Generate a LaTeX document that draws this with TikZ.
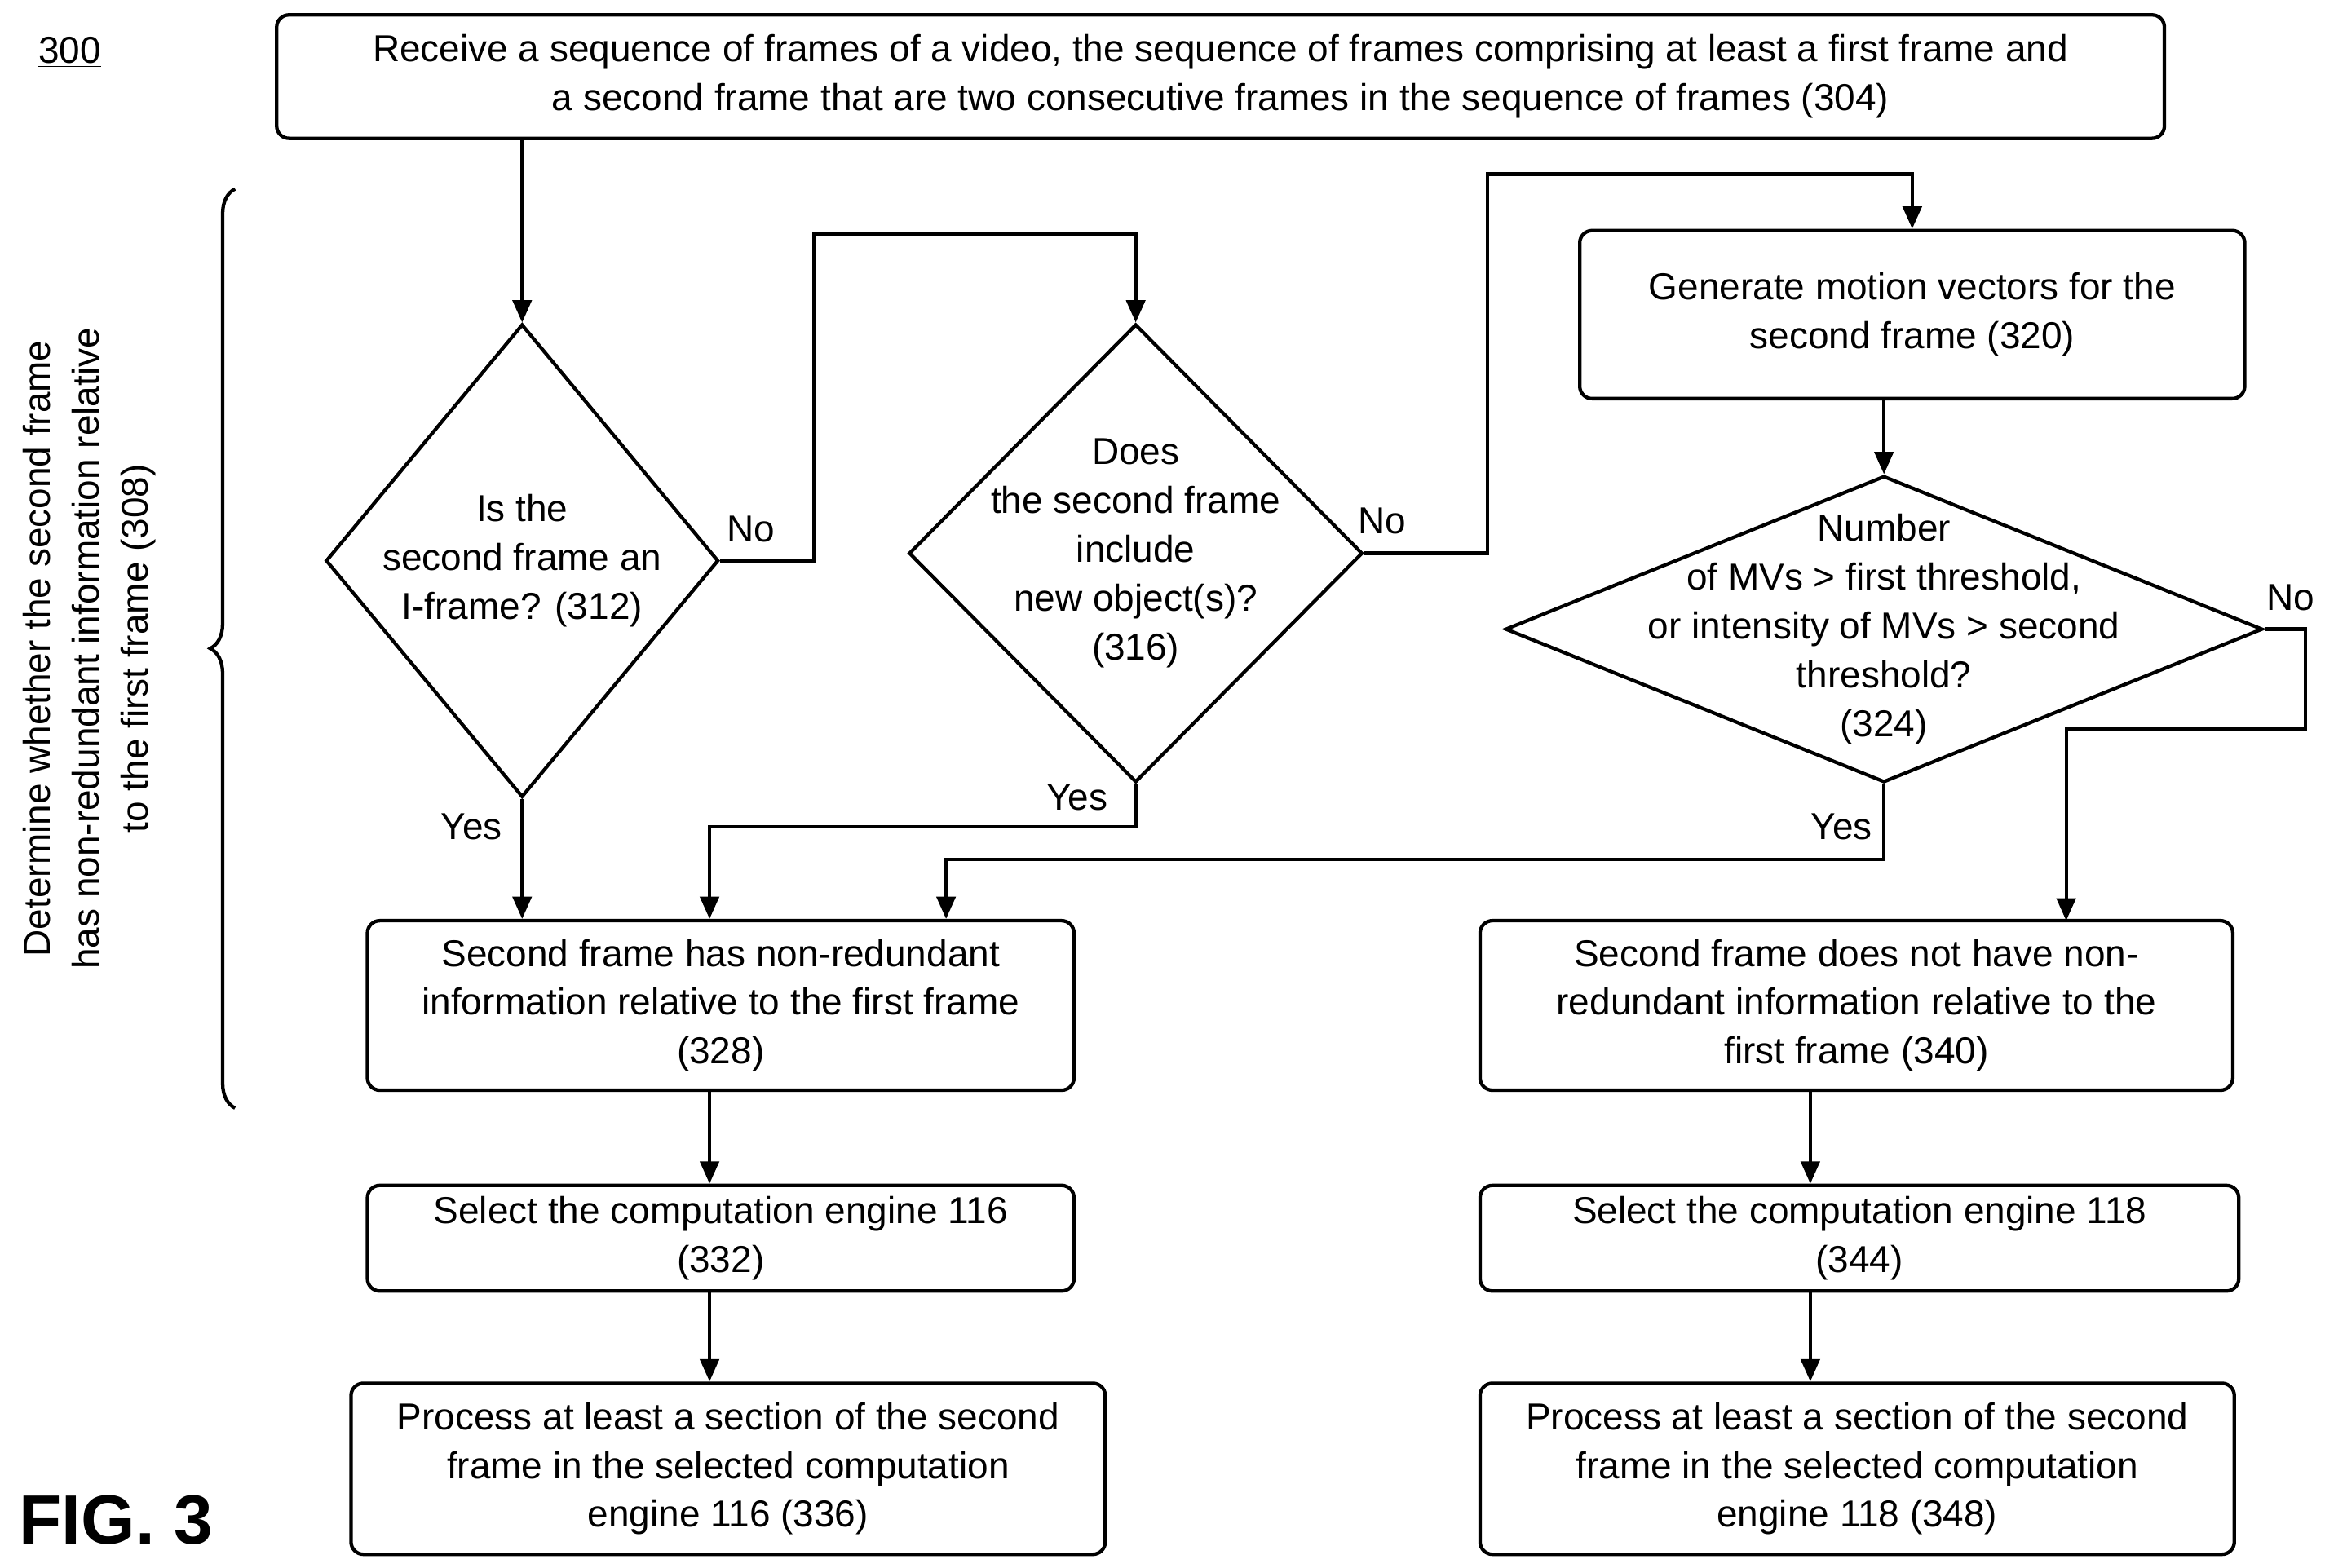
\documentclass[tikz,border=0pt]{standalone}
\usepackage{fontspec}
\setmainfont{Liberation Sans}
\usetikzlibrary{shapes.geometric,arrows.meta,decorations.pathreplacing}
\begin{document}
\begin{tikzpicture}[x=0.03cm,y=-0.03cm,
  every node/.style={font=\fontsize{21.5}{28}\selectfont},
  box/.style={draw,line width=2pt,rounded corners=0.25cm,inner sep=0pt,align=center},
  dia/.style={draw,line width=2pt,diamond,inner sep=0pt},
  txt/.style={align=center,inner sep=0pt},
  arr/.style={line width=2pt,-{Triangle[length=0.45cm,width=0.38cm]}},
  lbl/.style={inner sep=0pt}]
\useasboundingbox (0,0) rectangle (1563,1054);
\node[lbl] (n300) at (47,35) {\underline{300}};
\node[box,minimum width=38.07cm,minimum height=2.49cm] (b304) at (820.5,51.5) {Receive a sequence of frames of a video, the sequence of frames comprising at least a first frame and\\a second frame that are two consecutive frames in the sequence of frames (304)};
\node[box,minimum width=13.41cm,minimum height=3.39cm] (b320) at (1285.5,211.5) {Generate motion vectors for the\\second frame (320)};
\node[box,minimum width=14.25cm,minimum height=3.42cm] (b328) at (484.5,676) {Second frame has non-redundant\\information relative to the first frame\\(328)};
\node[box,minimum width=15.18cm,minimum height=3.42cm] (b340) at (1248,676) {Second frame does not have non-\\redundant information relative to the\\first frame (340)};
\node[box,minimum width=14.25cm,minimum height=2.13cm] (b332) at (484.5,832.5) {Select the computation engine 116\\(332)};
\node[box,minimum width=15.3cm,minimum height=2.13cm] (b344) at (1250,832.5) {Select the computation engine 118\\(344)};
\node[box,minimum width=15.21cm,minimum height=3.45cm] (b336) at (489.5,987.5) {Process at least a section of the second\\frame in the selected computation\\engine 116 (336)};
\node[box,minimum width=15.21cm,minimum height=3.45cm] (b348) at (1248.5,987.5) {Process at least a section of the second\\frame in the selected computation\\engine 118 (348)};
\node[dia,minimum width=7.92cm,minimum height=9.54cm] (d312) at (351,377) {};
\node[txt] (t312) at (351,377) {Is the\\second frame an\\I-frame? (312)};
\node[dia,minimum width=9.15cm,minimum height=9.24cm] (d316) at (763.5,372) {};
\node[txt] (t316) at (763.5,372) {Does\\the second frame\\include\\new object(s)?\\(316)};
\node[dia,minimum width=15.27cm,minimum height=6.18cm] (d324) at (1266.5,423) {};
\node[txt] (t324) at (1266.5,423) {Number\\of MVs > first threshold,\\or intensity of MVs > second\\threshold?\\(324)};
\node[lbl] (no1) at (505,356) {No};
\node[lbl] (no2) at (929,350) {No};
\node[lbl] (no3) at (1540,402) {No};
\node[lbl] (y1) at (317,556) {Yes};
\node[lbl] (y2) at (724,536) {Yes};
\node[lbl] (y3) at (1238,556) {Yes};
\node[lbl,font=\fontsize{40}{44}\selectfont\bfseries] (fig) at (78,1022) {FIG. 3};
\node[txt,rotate=90] (t308) at (60,436) {Determine whether the second frame\\has non-redundant information relative\\to the first frame (308)};
\draw[line width=2pt,decorate,decoration={brace,amplitude=0.5cm}] (158,745) -- (158,127);
\coordinate (c1) at (547,157);
\coordinate (c2) at (1000,117);
\coordinate (c3) at (1550,490);
\coordinate (c4) at (477,556);
\coordinate (c5) at (636,578);
\coordinate (c6) at (1389,619);
\draw[arr] (b304.south -| d312.north) -- (d312.north);
\draw[arr] (d312.east) -| (c1) -| (d316.north);
\draw[arr] (d316.east) -| (c2) -| (b320.north);
\draw[arr] (b320.south -| d324.north) -- (d324.north);
\draw[arr] (d324.east) -| (c3) -| (c6);
\draw[arr] (d312.south) -- (b328.north -| d312.south);
\draw[arr] (d316.south) |- (c4) -- (b328.north -| c4);
\draw[arr] (d324.south) |- (c5) -- (b328.north -| c5);
\draw[arr] (b328.south -| c4) -- (b332.north -| c4);
\draw[arr] (b332.south -| c4) -- (b336.north -| c4);
\coordinate (c7) at (1217,0);
\draw[arr] (b340.south -| c7) -- (b344.north -| c7);
\draw[arr] (b344.south -| c7) -- (b348.north -| c7);
\end{tikzpicture}
\end{document}
